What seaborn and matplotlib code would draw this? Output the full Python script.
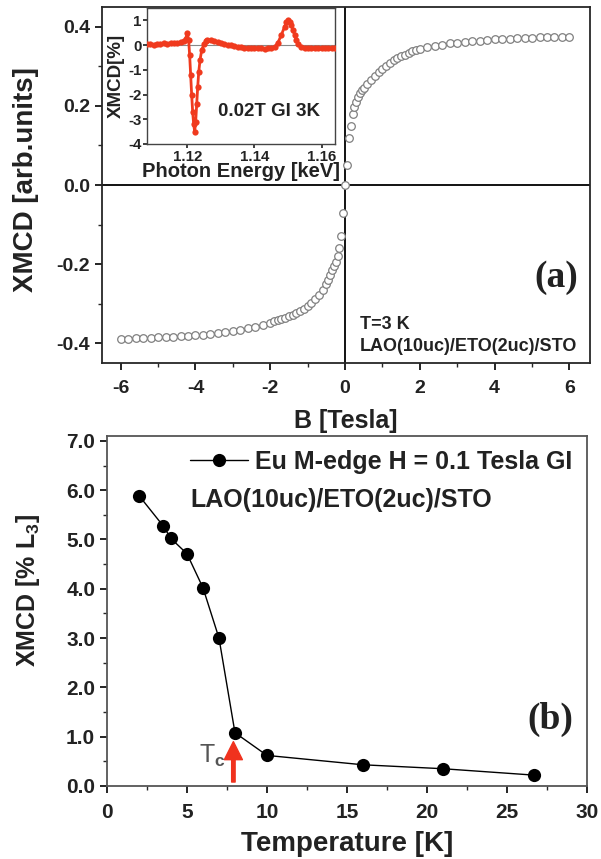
import matplotlib
matplotlib.use("Agg")
import matplotlib.pyplot as plt
from matplotlib.ticker import MultipleLocator, FormatStrFormatter
import numpy as np
import pandas as pd
import seaborn as sns

# panel (a): field dependent XMCD
field_t = [
    -6.0, -5.8, -5.6, -5.4, -5.2, -5.0, -4.8, -4.6, -4.4, -4.2,
    -4.0, -3.8, -3.6, -3.4, -3.2, -3.0, -2.8, -2.6, -2.4, -2.2,
    -2.0, -1.9, -1.8, -1.7, -1.6, -1.5, -1.4, -1.3, -1.2, -1.1,
    -1.0, -0.9, -0.8, -0.7, -0.6, -0.5, -0.45, -0.4, -0.35, -0.3,
    -0.25, -0.2, -0.15, -0.1, -0.05, 0.0,
    0.05, 0.1, 0.15, 0.2, 0.25, 0.3, 0.35, 0.4, 0.45, 0.5,
    0.6, 0.7, 0.8, 0.9, 1.0, 1.1, 1.2, 1.3, 1.4, 1.5,
    1.6, 1.7, 1.8, 1.9, 2.0, 2.2, 2.4, 2.6, 2.8, 3.0,
    3.2, 3.4, 3.6, 3.8, 4.0, 4.2, 4.4, 4.6, 4.8, 5.0,
    5.2, 5.4, 5.6, 5.8, 6.0,
]
xmcd_field = [
    -0.390, -0.389, -0.388, -0.387, -0.386, -0.385, -0.384, -0.383, -0.382, -0.381,
    -0.380, -0.378, -0.376, -0.374, -0.372, -0.369, -0.366, -0.362, -0.358, -0.353,
    -0.348, -0.345, -0.342, -0.339, -0.336, -0.332, -0.328, -0.323, -0.318, -0.313,
    -0.306, -0.298, -0.288, -0.278, -0.266, -0.250, -0.240, -0.228, -0.215, -0.205,
    -0.195, -0.180, -0.160, -0.130, -0.070, 0.000,
    0.050, 0.120, 0.150, 0.180, 0.197, 0.210, 0.222, 0.232, 0.240, 0.245,
    0.255, 0.266, 0.276, 0.285, 0.293, 0.300, 0.308, 0.315, 0.321, 0.326,
    0.330, 0.334, 0.338, 0.341, 0.344, 0.349, 0.352, 0.355, 0.358, 0.360,
    0.362, 0.364, 0.365, 0.367, 0.368, 0.369, 0.370, 0.371, 0.372, 0.372,
    0.373, 0.373, 0.374, 0.374, 0.374,
]

# inset: XMCD spectrum at 0.02 T
energy_kev = [
    1.108, 1.109, 1.110, 1.111, 1.112, 1.113, 1.114, 1.115, 1.116, 1.117,
    1.118, 1.119, 1.1195, 1.1200, 1.1204, 1.1207, 1.1210, 1.1213, 1.1216, 1.1219,
    1.1222, 1.1225, 1.1228, 1.1231, 1.1234, 1.1238, 1.1243, 1.1250, 1.1256, 1.126,
    1.127, 1.128, 1.129, 1.130, 1.131, 1.132, 1.133, 1.134, 1.135, 1.136,
    1.137, 1.138, 1.139, 1.140, 1.141, 1.142, 1.143, 1.144, 1.145, 1.146,
    1.147, 1.148, 1.149, 1.1495, 1.150, 1.1505, 1.151, 1.1515, 1.152, 1.1525,
    1.153, 1.154, 1.155, 1.156, 1.157, 1.158, 1.159, 1.160, 1.161, 1.162,
    1.163, 1.164,
]
xmcd_spectrum = [
    0.03, 0.05, 0.02, 0.05, 0.04, 0.07, 0.06, 0.08, 0.10, 0.09,
    0.12, 0.17, 0.25, 0.50, 0.20, -0.40, -1.20, -2.00, -2.70, -3.20,
    -3.50, -3.10, -2.40, -1.70, -1.10, -0.60, -0.20, 0.05, 0.15, 0.20,
    0.22, 0.18, 0.12, 0.08, 0.05, 0.02, 0.00, -0.03, -0.06, -0.08,
    -0.10, -0.12, -0.10, -0.12, -0.13, -0.12, -0.14, -0.13, -0.12, -0.08,
    0.10, 0.40, 0.75, 0.92, 1.00, 0.95, 0.80, 0.60, 0.40, 0.20,
    0.05, -0.08, -0.10, -0.11, -0.12, -0.10, -0.12, -0.13, -0.11, -0.13,
    -0.12, -0.13,
]

# panel (b): temperature dependence
temp_k = [2.0, 3.5, 4.0, 5.0, 6.0, 7.0, 8.0, 10.0, 16.0, 21.0, 26.7]
xmcd_temp = [5.89, 5.28, 5.02, 4.71, 4.02, 3.00, 1.08, 0.62, 0.43, 0.35, 0.22]

sns.set_theme(style="ticks")
plt.rcParams["font.family"] = ["Liberation Sans", "DejaVu Sans"]
plt.rcParams["font.weight"] = "bold"
plt.rcParams["axes.unicode_minus"] = False
plt.rcParams["mathtext.fontset"] = "custom"
plt.rcParams["mathtext.rm"] = "Liberation Sans"
plt.rcParams["mathtext.bf"] = "Liberation Sans:bold"
plt.rcParams["xtick.direction"] = "out"
plt.rcParams["ytick.direction"] = "out"

fig = plt.figure(figsize=(6.01, 8.59), dpi=100)
ax_a = fig.add_axes([0.1697, 0.5774, 0.812, 0.4144])
ax_in = fig.add_axes([0.2446, 0.8324, 0.3128, 0.1583])
ax_b = fig.add_axes([0.178, 0.085, 0.7987, 0.4075])

text_col = "#222222"

# ---- (a)
df_a = pd.DataFrame({"B": field_t, "XMCD": xmcd_field})
ax_a.axhline(0, color="black", lw=1.3, zorder=1)
ax_a.axvline(0, color="black", lw=1.3, zorder=1)
sns.scatterplot(data=df_a, x="B", y="XMCD", ax=ax_a, marker="o", s=30,
                facecolor="white", edgecolor="#808080", linewidth=0.9, zorder=3)
ax_a.set_xlim(-6.5, 6.55)
ax_a.set_ylim(-0.45, 0.45)
ax_a.xaxis.set_major_locator(MultipleLocator(2))
ax_a.xaxis.set_minor_locator(MultipleLocator(1))
ax_a.yaxis.set_major_locator(MultipleLocator(0.2))
ax_a.yaxis.set_minor_locator(MultipleLocator(0.1))
ax_a.yaxis.set_major_formatter(FormatStrFormatter("%.1f"))
ax_a.set_xlabel("B [Tesla]", fontsize=18, fontweight="bold", color=text_col)
ax_a.set_ylabel("XMCD [arb.units]", fontsize=20, fontweight="bold", color=text_col)
ax_a.xaxis.set_label_coords(0.5, -0.128)
ax_a.yaxis.set_label_coords(-0.13, 0.514)
ax_a.text(0.529, 0.107, "T=3 K", transform=ax_a.transAxes, fontsize=13,
          fontweight="bold", color=text_col, ha="left", va="center")
ax_a.text(0.529, 0.045, "LAO(10uc)/ETO(2uc)/STO", transform=ax_a.transAxes,
          fontsize=13, fontweight="bold", color=text_col, ha="left", va="center")
ax_a.text(0.93, 0.24, "(a)", transform=ax_a.transAxes, fontsize=27,
          fontweight="bold", family="Liberation Serif", color=text_col,
          ha="center", va="center")

# ---- inset
df_in = pd.DataFrame({"E": energy_kev, "XMCD": xmcd_spectrum})
ax_in.axhline(0, color="#888888", lw=0.8, zorder=1)
sns.lineplot(data=df_in, x="E", y="XMCD", ax=ax_in, color="#f03a1e", lw=2.0,
             marker="o", markersize=4.5, markeredgewidth=0, zorder=3)
ax_in.set_xlim(1.108, 1.164)
ax_in.set_ylim(-4, 1.5)
ax_in.xaxis.set_major_locator(MultipleLocator(0.02))
ax_in.yaxis.set_major_locator(MultipleLocator(1))
ax_in.xaxis.set_major_formatter(FormatStrFormatter("%.2f"))
ax_in.tick_params(labelsize=10.8, length=3, pad=1, labelcolor=text_col)
ax_in.set_xlabel("Photon Energy [keV]", fontsize=14.5, fontweight="bold", color=text_col, labelpad=-1)
ax_in.set_ylabel("XMCD[%]", fontsize=13.5, fontweight="bold", color=text_col)
ax_in.yaxis.set_label_coords(-0.12, 0.5)
ax_in.text(1.1443, -2.67, "0.02T GI 3K", fontsize=13.5, fontweight="bold",
           color=text_col, ha="center", va="center")

# ---- (b)
df_b = pd.DataFrame({"T": temp_k, "XMCD": xmcd_temp})
sns.lineplot(data=df_b, x="T", y="XMCD", ax=ax_b, color="black", lw=1.0,
             marker="o", markersize=9.5, markeredgewidth=0,
             label="Eu M-edge H = 0.1 Tesla GI", zorder=3)
ax_b.set_xlim(0, 30)
ax_b.set_ylim(0, 7.1)
ax_b.xaxis.set_major_locator(MultipleLocator(5))
ax_b.xaxis.set_minor_locator(MultipleLocator(2.5))
ax_b.yaxis.set_major_locator(MultipleLocator(1))
ax_b.yaxis.set_minor_locator(MultipleLocator(0.5))
ax_b.yaxis.set_major_formatter(FormatStrFormatter("%.1f"))
ax_b.set_xlabel("Temperature [K]", fontsize=20, fontweight="bold", color=text_col)
ax_b.set_ylabel(r"XMCD [% L$_\mathbf{3}$]", fontsize=18, fontweight="bold", color=text_col)
ax_b.xaxis.set_label_coords(0.5, -0.128)
ax_b.yaxis.set_label_coords(-0.135, 0.557)
leg = ax_b.legend(loc="center left", bbox_to_anchor=(0.173, 0.926), frameon=False,
                  fontsize=18, handlelength=2.3, handletextpad=0.3,
                  borderpad=0, borderaxespad=0)
for t in leg.get_texts():
    t.set_fontweight("bold")
    t.set_color(text_col)
ax_b.text(0.173, 0.817, "LAO(10uc)/ETO(2uc)/STO", transform=ax_b.transAxes,
          fontsize=18, fontweight="bold", color=text_col, ha="left", va="center")
ax_b.annotate("", xy=(7.9, 0.9), xytext=(7.9, 0.08),
              arrowprops=dict(facecolor="#f0321e", edgecolor="#f0321e",
                              width=2.5, headwidth=13, headlength=13))
ax_b.text(6.6, 0.62, r"T$_\mathrm{c}$", fontsize=18, fontweight="normal",
          color="#555555", ha="center", va="center")
ax_b.text(0.923, 0.19, "(b)", transform=ax_b.transAxes, fontsize=27,
          fontweight="bold", family="Liberation Serif", color=text_col,
          ha="center", va="center")

ax_a.tick_params(which="major", labelsize=14, length=5, width=1.2, colors="black",
                 labelcolor=text_col)
ax_b.tick_params(which="major", labelsize=15, length=5, width=1.2, colors="black",
                 labelcolor=text_col)
ax_a.tick_params(axis="x", which="major", pad=7)
ax_b.tick_params(axis="x", which="major", pad=7)
for ax in (ax_a, ax_b):
    ax.tick_params(which="minor", length=3, width=1.0)
    for sp in ax.spines.values():
        sp.set_visible(True)
        sp.set_linewidth(1.3)
for sp in ax_b.spines.values():
    sp.set_color("#555555")
for sp in ax_in.spines.values():
    sp.set_linewidth(1.0)
    sp.set_color("#444444")

fig.savefig("out.png", dpi=100)
